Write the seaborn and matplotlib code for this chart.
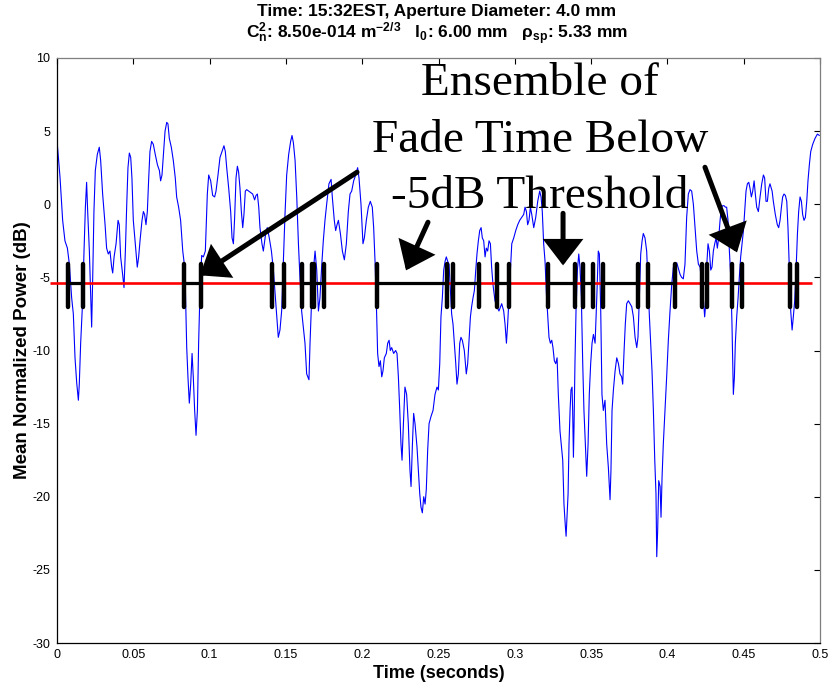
import numpy as np
import matplotlib
matplotlib.use("Agg")
import matplotlib.pyplot as plt
import seaborn as sns
import pandas as pd

# ---------------- data ----------------
time_ms = [
    0.2, 2.0, 3.7, 5.2, 6.8, 8.1, 9.6, 10.7, 11.8, 12.9, 14.0, 14.6, 15.5, 16.8, 17.7, 18.6, 19.4, 20.1,
    21.2, 22.1, 22.7, 23.4, 24.2, 25.1, 26.4, 27.7, 28.6, 29.9, 31.5, 32.5, 33.6, 34.7, 35.8, 36.5, 37.4,
    38.7, 40.0, 40.8, 41.7, 43.0, 43.9, 44.8, 45.7, 46.5, 47.4, 48.3, 49.1, 50.0, 51.3, 52.6, 53.5, 54.4,
    55.7, 56.6, 57.4, 58.3, 59.2, 60.1, 60.9, 62.0, 63.1, 64.4, 65.8, 67.1, 67.9, 68.8, 69.7, 70.8, 71.9,
    72.7, 73.6, 74.9, 76.2, 77.5, 78.4, 79.7, 81.0, 82.4, 83.2, 84.1, 85.0, 85.8, 86.7, 87.6, 88.5, 89.3,
    90.2, 91.1, 92.0, 92.8, 93.7, 94.8, 95.9, 97.2, 98.5, 99.4, 100.7, 102.0, 103.3, 104.2, 105.5, 106.8,
    108.1, 109.4, 110.3, 111.2, 112.5, 113.8, 114.7, 115.6, 116.4, 117.3, 118.2, 119.0, 119.9, 120.8,
    121.7, 122.5, 123.4, 124.3, 125.6, 126.9, 128.2, 129.5, 130.4, 131.3, 132.2, 133.0, 134.3, 135.2,
    136.1, 137.0, 137.8, 139.1, 140.5, 141.8, 143.1, 144.0, 145.0, 146.1, 147.2, 148.3, 149.4, 150.5,
    151.8, 153.1, 154.0, 154.9, 156.0, 157.1, 158.2, 159.2, 160.3, 161.4, 162.5,
    163.6, 165.1, 165.8, 166.9, 168.0, 169.1, 170.2, 171.3, 172.3, 173.4, 174.5, 175.6, 176.7, 178.2,
    179.6, 180.4, 181.7, 182.6, 183.5, 184.4, 185.7, 187.0, 188.3, 189.6, 190.9, 192.0, 193.1, 194.4,
    195.7, 197.0, 197.9, 199.2, 200.5, 201.4, 202.7, 204.0, 205.3, 206.6, 207.5, 208.4, 209.5, 210.1,
    211.0, 211.9, 212.8, 213.6, 214.5, 215.8, 216.7, 217.6, 218.4, 219.3, 220.6, 221.9, 222.8, 223.7,
    224.6, 225.4, 226.1, 227.0, 228.0, 229.1, 230.2, 231.3, 232.0, 232.9, 233.7, 234.6, 235.9, 236.8,
    237.7, 238.5, 239.4, 240.3, 241.2, 242.0, 242.9, 243.8, 245.1, 246.4, 247.7, 249.0, 249.9, 250.8,
    251.6, 252.5, 253.4, 254.3, 255.1, 256.0, 256.9, 257.8, 258.6, 259.5, 260.4, 261.3, 262.1, 263.0,
    263.9, 264.7, 265.6, 266.9, 268.2, 269.1, 270.0, 270.9, 271.7, 272.6, 273.5, 274.4, 275.2, 276.1,
    277.0, 277.9, 278.7, 279.6, 280.5, 281.3, 282.2, 283.1, 284.0, 284.8, 285.7, 287.0, 288.3, 289.6,
    291.4, 292.7, 293.6, 294.5, 295.3, 296.2, 297.1, 298.0, 299.3, 300.6, 301.9, 303.2, 304.5, 305.8,
    306.7, 307.6, 308.4, 309.3, 310.2, 311.1, 312.4, 313.7, 315.0, 316.3, 317.2, 318.0, 318.9, 319.8,
    320.7, 321.5, 322.4, 323.3, 324.2, 325.0, 325.9, 326.8, 327.7, 328.5, 329.6,
    331.4, 332.2, 333.1, 333.6, 334.2, 334.9, 335.5, 336.2, 336.8, 337.5, 337.9, 338.4, 338.8, 339.4,
    340.1, 341.0, 341.9, 342.7, 343.6, 344.5, 345.3, 346.2, 347.1, 348.0, 348.8, 349.7, 350.6, 351.5,
    352.6, 353.7, 354.7, 355.4, 356.3, 357.1, 358.0, 359.1, 360.2, 361.3, 362.4, 363.0, 363.7, 364.6,
    365.7, 366.8, 367.9, 368.9, 370.0, 370.7, 371.6, 372.4, 373.3, 374.4, 375.5, 376.6, 377.7, 378.8,
    379.9, 380.7, 381.6, 382.5, 383.4, 384.2, 385.3, 386.4, 387.3, 388.2, 389.0, 389.9, 390.8, 391.7,
    392.5, 393.0, 393.6, 394.3, 395.2, 395.8, 396.5, 397.3, 398.4, 399.5, 400.6, 401.7, 402.8, 403.9,
    405.0, 406.1, 407.2, 408.3, 409.3, 410.4, 411.5, 412.6, 413.7, 414.8, 415.9, 417.0, 418.1, 419.2,
    420.3, 421.4, 422.5, 423.5, 424.4, 425.1, 425.7, 426.6, 427.5, 428.4, 429.2, 430.1, 431.0, 431.9,
    432.7, 433.6, 434.5, 435.4, 436.2, 437.1, 438.0, 438.8, 439.7, 440.6, 441.5, 442.3, 443.2, 443.9,
    444.5, 445.4, 446.3, 447.1, 448.0, 448.9, 449.8, 450.6, 451.5, 452.4, 453.3, 454.1, 455.0, 455.9,
    456.8, 457.6, 458.5, 459.6, 460.7, 461.8, 462.9, 463.7, 464.6, 465.5, 466.4, 467.2, 468.6, 469.4,
    470.7, 472.0, 472.9, 473.8, 474.7, 475.5, 476.4, 477.3, 478.2, 479.0, 479.9, 480.8, 481.7, 482.5,
    483.4, 484.3, 485.2, 486.0, 486.9, 487.8, 488.6, 489.5, 490.4, 491.3, 492.1, 493.0, 493.9, 495.2,
    496.7, 498.3, 499.6,
]
power_db = [
    4.1, 1.8, -1.1, -2.5, -3.0, -4.1, -6.4, -7.5, -10.5, -12.2, -13.4, -12.3, -9.5, -6.6, -3.2, -0.2, 1.5, -0.5,
    -3.2, -6.4, -8.4, -5.0, -0.5, 2.3, 3.4, 3.9, 3.0, 0.7, -1.4, -3.0, -3.4, -3.2, -4.3, -4.7, -3.6,
    -2.7, -1.1, -1.4, -3.6, -4.8, -5.7, -3.2, 0.0, 2.5, 3.5, 3.2, 1.8, -1.1, -2.7, -4.3, -3.6, -2.5,
    -1.1, -0.5, -0.7, -1.4, -0.5, 1.8, 3.6, 4.3, 4.1, 3.4, 2.7, 2.3, 1.6, 2.0, 3.4, 5.0, 5.6,
    5.5, 4.5, 3.9, 3.0, 1.8, 0.5, -0.2, -1.1, -3.2, -3.9, -5.7, -9.8, -11.8, -13.6, -12.3, -10.2, -11.8,
    -14.1, -15.8, -14.1, -9.5, -5.9, -3.5, -3.6, -3.2, 0.7, 2.0, 1.6, 0.6, 0.5, 0.9, 2.0, 3.2,
    3.6, 4.0, 3.6, 2.5, 1.1, -0.5, -2.3, -2.7, -0.9, 1.8, 2.6, 2.2, 1.1, -0.5,
    -1.6, -0.7, 0.9, 1.0, 0.9, 0.8, 0.7, 0.3, 0.6, 0.7, -0.2, -1.6, -2.7, -3.2,
    -2.5, -1.8, -1.6, -2.3, -3.2, -4.5, -6.4, -7.7, -9.1, -8.6, -7.3, -4.1, -0.7, 2.0,
    3.4, 4.3, 4.7, 4.2, 3.0, 0.5, -2.7, -5.0, -7.3, -8.4, -9.5,
    -11.6, -12.0, -9.5, -6.4, -4.5, -3.2, -4.5, -7.3, -6.4, -4.3, -2.5, -1.1, 0.0, 1.4,
    1.7, 0.5, -1.1, -1.8, -1.4, -1.1, -2.0, -3.2, -3.8, -2.7, -0.5, 0.7, 0.9, 1.6,
    2.0, 2.5, 1.8, 0.0, -2.7, -2.3, -1.1, -0.2, 0.2, -0.2, -1.6, -3.9, -7.7, -10.2,
    -11.1, -10.7, -11.8, -11.4, -10.5, -10.2, -9.5, -9.3, -10.0, -9.8, -10.2, -10.0, -10.2, -11.8,
    -14.1, -16.4, -17.5, -15.0, -12.5, -13.0, -15.0, -18.2, -19.3, -16.4, -14.3, -15.0, -16.6, -18.2,
    -19.8, -20.7, -21.1, -20.0, -20.5, -19.5, -16.8, -15.0, -14.5, -14.1, -13.0, -12.5, -12.7, -10.9,
    -7.7, -6.4, -4.5, -3.9, -3.6, -3.9, -4.1, -5.9, -7.5, -8.2, -9.5, -10.9, -12.3, -11.6,
    -9.5, -9.1, -9.3, -10.0, -11.6, -10.9, -9.3, -7.7, -7.0, -6.4, -5.9, -4.5, -3.4, -2.5,
    -1.8, -1.6, -2.3, -2.5, -3.6, -3.0, -3.2, -2.5, -2.7, -4.3, -5.5, -6.6, -7.0, -7.3,
    -6.8, -7.3, -8.2, -9.5, -8.2, -6.4, -4.5, -2.7, -2.3, -1.8, -1.4, -1.1, -0.9, -0.7,
    -0.2, -0.5, -1.4, -1.1, -0.2, -0.7, -1.6, -0.9, 0.2, 0.9, 0.5, -0.5, -2.7, -3.9,
    -6.1, -7.5, -9.1, -9.5, -9.3, -9.8, -10.7, -10.9, -10.5, -13.0, -15.5,
    -17.5, -20.5, -22.0, -22.7, -21.4, -19.8, -16.4, -14.1, -12.7, -12.5, -14.1, -17.3, -15.2, -10.9,
    -7.3, -4.5, -3.4, -4.3, -6.4, -10.9, -14.1, -16.4, -18.6, -16.4, -13.0, -10.9, -9.5, -8.9,
    -9.5, -6.4, -3.2, -3.4, -7.3, -13.0, -14.1, -13.4, -16.4, -18.0, -20.2, -18.2, -14.1, -12.7,
    -11.4, -10.5, -10.9, -11.6, -11.8, -12.3, -10.0, -8.2, -6.8, -6.6, -6.8, -7.0, -7.7, -9.1,
    -9.8, -9.1, -6.4, -3.4, -2.5, -2.0, -2.3, -3.2, -5.5, -7.7, -9.5, -11.4, -14.1, -17.5,
    -19.8, -24.1, -22.3, -18.9, -19.3, -21.4, -18.6, -16.4, -14.1, -11.8, -9.3, -7.3, -5.5, -4.3,
    -4.3, -4.0, -4.4, -4.8, -5.0, -5.1, -4.1, -0.9, 0.7, 1.0, 0.9, 0.0, -1.6, -3.2,
    -4.1, -4.3, -5.5, -6.4, -7.7, -6.8, -4.3, -2.7, -3.2, -4.5, -4.3, -3.2, -2.7, -2.3,
    -3.0, -2.3, -1.1, -0.2, -0.1, -0.1, -0.2, -0.2, -1.1, -3.2, -5.0, -8.2, -13.0, -11.8,
    -9.5, -7.7, -6.4, -5.0, -3.6, -2.7, -1.8, -0.5, 0.9, 1.4, 1.5, 1.1, 0.5, 0.9,
    1.6, 0.7, -0.2, -0.5, 0.5, 1.4, 2.0, 1.8, 0.2, 0.2, 1.1, 1.4, 0.9, 0.2,
    -0.7, -1.4, -1.6, -1.1, -0.2, 0.5, 0.7, 0.6, 0.2, -1.6, -4.5, -7.3, -8.6, -7.7,
    -6.6, -4.5, -2.0, -0.5, 0.5, 0.2, -0.7, -1.1, -0.9, 0.2, 1.6, 2.7, 3.6, 4.1,
    4.5, 4.8, 4.7,
]

threshold_db = -5.4
threshold_span_s = [-0.0045, 0.4945]

fade_start_s = [0.0074, 0.0834, 0.1411, 0.1604, 0.1684, 0.2099, 0.2593, 0.2881,
                0.3220, 0.3449, 0.3576, 0.3875, 0.4225, 0.4421, 0.4803]
fade_end_s = [0.0168, 0.0944, 0.1488, 0.1671, 0.1752, 0.2554, 0.2767, 0.2964,
              0.3395, 0.3514, 0.3809, 0.4050, 0.4257, 0.4487, 0.4847]

x_ticks = [0, 0.05, 0.1, 0.15, 0.2, 0.25, 0.3, 0.35, 0.4, 0.45, 0.5]
x_tick_labels = ["0", "0.05", "0.1", "0.15", "0.2", "0.25", "0.3", "0.35", "0.4", "0.45", "0.5"]
y_ticks = [-30, -25, -20, -15, -10, -5, 0, 5, 10]
y_tick_labels = ["-30", "-25", "-20", "-15", "-10", "-5", "0", "5", "10"]

title_line1 = "Time: 15:32EST, Aperture Diameter: 4.0 mm"
title_line2 = r"C$_n^2$: 8.50e-014 m$^{-2/3}$   l$_0$: 6.00 mm   $\rho_{sp}$: 5.33 mm"
x_label = "Time (seconds)"
y_label = "Mean Normalized Power (dB)"
annotation_lines = ["Ensemble of", "Fade Time Below", "-5dB Threshold"]

# ---------------- styling ----------------
sns.set_theme(style="white")
plt.rcParams.update({
    "font.family": ["Liberation Sans", "DejaVu Sans"],
    "mathtext.fontset": "custom",
    "mathtext.rm": "Liberation Sans:bold",
    "mathtext.it": "Liberation Sans:bold",
    "mathtext.bf": "Liberation Sans:bold",
    "mathtext.sf": "Liberation Sans:bold",
    "axes.edgecolor": "black",
    "axes.linewidth": 0.9,
    "text.color": "black",
    "axes.labelcolor": "black",
    "xtick.color": "black",
    "ytick.color": "black",
})

fig = plt.figure(figsize=(8.31, 6.88), dpi=100)
fig.patch.set_facecolor("white")
ax = fig.add_axes([0.0686, 0.0654, 0.9182, 0.8503])
ax.set_facecolor("white")

df = pd.DataFrame({"t": np.array(time_ms) / 1000.0, "p": power_db})
sns.lineplot(data=df, x="t", y="p", ax=ax, color="#0000ff", linewidth=0.8,
             estimator=None, sort=False, zorder=2)

# threshold line
ax.plot(threshold_span_s, [threshold_db, threshold_db], color="#ff0000",
        linewidth=1.9, zorder=3, clip_on=False, solid_capstyle="butt")

# fade-interval markers
ax.hlines([threshold_db] * len(fade_start_s), fade_start_s, fade_end_s,
          colors="black", linewidth=2.3, zorder=4)
tick_lo, tick_hi = threshold_db - 1.65, threshold_db + 1.3
ax.vlines(fade_start_s + fade_end_s, tick_lo, tick_hi, colors="black",
          linewidth=3.2, zorder=5, capstyle="round")

# arrows
arrow_kw = dict(arrowstyle="-|>,head_length=0.65,head_width=0.5", color="black",
                lw=3.6, mutation_scale=22, shrinkA=0, shrinkB=0, joinstyle="miter")
arrows = [((0.1966, 2.19), (0.0937, -4.86)),
          ((0.2431, -1.23), (0.2287, -4.52)),
          ((0.3316, -0.62), (0.3316, -4.18)),
          ((0.4246, 2.53), (0.4456, -3.29))]
for tail, tip in arrows:
    ax.annotate("", xy=tip, xytext=tail, xycoords="data", textcoords="data",
                arrowprops=arrow_kw, zorder=6)

# big annotation text
for line, yb in zip(annotation_lines, [7.47, 3.56, -0.27]):
    ax.text(0.3165, yb, line, ha="center", va="baseline", fontsize=34,
            family=["Liberation Serif", "DejaVu Serif"], color="black", zorder=7)

# axes
ax.set_xlim(0, 0.5)
ax.set_ylim(-30, 10)
ax.set_xticks(x_ticks)
ax.set_xticklabels(x_tick_labels)
ax.set_yticks(y_ticks)
ax.set_yticklabels(y_tick_labels)
ax.tick_params(direction="in", length=4.5, width=0.8, top=True, right=True,
               labelsize=9, colors="black", pad=4)
ax.tick_params(axis="y", pad=5)
for side in ["top", "right"]:
    ax.spines[side].set_color("#7f7f7f")
for side in ["left", "bottom"]:
    ax.spines[side].set_color("black")

ax.set_xlabel(x_label, fontsize=13, fontweight="bold", color="black")
ax.set_ylabel(y_label, fontsize=13.5, fontweight="bold", color="black")
ax.xaxis.set_label_coords(0.5, -0.037)
ax.yaxis.set_label_coords(-0.034, 0.5)
ax.xaxis.label.set_va("top")

fig.text(437 / 831, 1 - 16 / 688, title_line1, ha="center", va="baseline",
         fontsize=12.5, fontweight="bold", color="black")
fig.text(437 / 831, 1 - 39 / 688, title_line2, ha="center", va="baseline",
         fontsize=12.5, fontweight="bold", color="black")

fig.savefig("out.png", dpi=100, facecolor="white")
